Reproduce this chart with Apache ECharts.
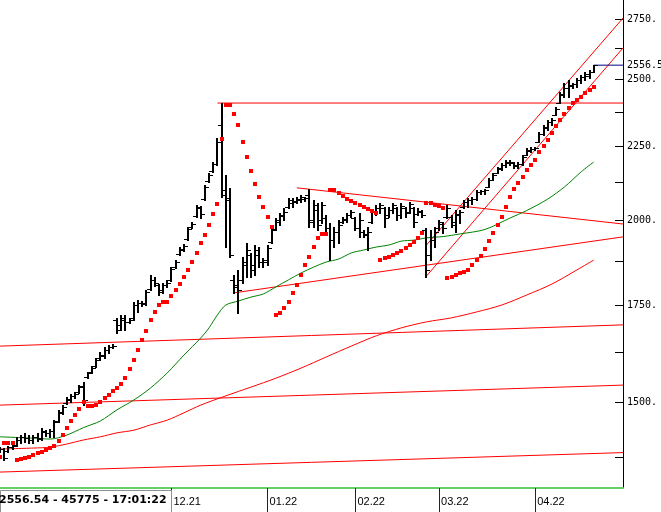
<!DOCTYPE html>
<html><head><meta charset="utf-8">
<script src="https://cdn.jsdelivr.net/npm/echarts@6/dist/echarts.min.js"></script>
<style>html,body{margin:0;padding:0;background:#fff}#c{width:661px;height:512px}</style>
</head><body><div id="c"></div>
<script>
const categoryCount = 150;
const monthIndex = [41, 64, 85, 105, 128];
const monthLabel = ['12.21', '01.22', '02.22', '03.22', '04.22'];

const open = [1392,1394,1390,1398,1403,1414,1421,1418,1414,1421,
1418,1432,1430,1434,1457,1476,1499,1506,1516,1525,
1540,1562,1574,1589,1610,1615,1630,1638,1709,1696,
1709,1704,1714,1750,1756,1756,1795,1821,1806,1792,
1806,1821,1858,1897,1909,1942,1980,2014,2040,2069,
2129,2163,2187,2326,2099,2066,1821,1806,1821,1864,
1894,1864,1894,1873,1873,1933,1973,1996,2014,2043,
2056,2063,2066,2069,2082,2002,2034,2002,2008,1977,
1939,1964,1996,2002,2018,2008,1977,1964,1955,1996,
2027,2040,2040,2018,2034,2040,2018,2040,2027,2040,
2021,2027,1970,1894,1939,1977,1989,2011,2011,1986,
2018,2043,2060,2066,2069,2092,2096,2109,2132,2156,
2170,2183,2191,2191,2180,2187,2218,2232,2240,2264,
2293,2315,2337,2363,2408,2439,2466,2474,2482,2497,
2509,2513,2529];
const high = [1398,1396,1401,1403,1421,1425,1430,1425,1425,1430,
1441,1436,1439,1459,1483,1494,1513,1521,1525,1542,
1550,1574,1589,1610,1625,1638,1643,1646,1714,1723,
1723,1714,1758,1764,1761,1792,1835,1829,1809,1812,
1821,1858,1879,1918,1927,1980,1996,2050,2047,2115,
2156,2194,2279,2408,2149,2106,1835,1850,1888,1930,
1900,1924,1918,1885,1924,1980,2008,2024,2040,2073,
2073,2076,2082,2076,2102,2066,2056,2060,2018,1992,
1980,2002,2011,2024,2034,2011,2024,1970,1980,2034,
2050,2056,2043,2043,2056,2043,2056,2043,2060,2043,
2040,2034,1977,1970,1980,2002,1996,2050,2018,2034,
2034,2066,2073,2076,2099,2099,2102,2139,2156,2177,
2191,2201,2201,2194,2194,2218,2243,2247,2247,2300,
2326,2344,2352,2393,2451,2486,2497,2486,2505,2517,
2529,2537,2557];
const low = [1387,1370,1387,1394,1401,1407,1410,1407,1407,1412,
1414,1423,1421,1421,1455,1473,1497,1501,1511,1523,
1494,1560,1572,1587,1604,1610,1622,1635,1674,1682,
1682,1701,1709,1731,1747,1750,1792,1803,1778,1784,
1801,1818,1855,1894,1906,1939,1977,2011,2008,2066,
2125,2159,2183,2076,1918,1888,1784,1728,1812,1829,
1829,1835,1858,1858,1864,1930,1970,1986,2002,2040,
2043,2056,2060,2063,1980,1980,1970,1992,1961,1879,
1918,1930,1992,1996,2011,1970,1949,1949,1909,1992,
2018,2024,1980,2011,2024,2002,2008,2011,2024,1980,
2018,2011,1829,1879,1918,1970,1961,2008,1980,1964,
1992,2040,2043,2053,2066,2086,2086,2109,2132,2156,
2166,2177,2183,2173,2173,2183,2218,2229,2236,2264,
2290,2308,2326,2363,2408,2431,2431,2466,2470,2486,
2497,2505,2529];
const close = [1394,1375,1398,1401,1414,1421,1418,1414,1421,1416,
1434,1430,1434,1455,1478,1489,1509,1516,1521,1537,
1506,1572,1584,1604,1617,1630,1638,1640,1682,1714,
1704,1709,1750,1756,1753,1786,1821,1812,1786,1806,
1812,1852,1873,1912,1921,1973,1989,2043,2021,2109,
2149,2187,2264,2082,2073,1894,1800,1792,1873,1909,
1850,1909,1873,1879,1915,1970,2002,2018,2027,2066,
2060,2069,2076,2073,1996,2050,1986,2050,1977,1939,
1964,1986,2005,2018,2027,1977,2002,1958,1964,2027,
2040,2050,2008,2034,2050,2018,2047,2024,2053,1996,
2030,2018,1850,1939,1964,1996,1977,2040,1996,2021,
2027,2060,2066,2069,2092,2096,2099,2132,2149,2173,
2183,2194,2194,2183,2187,2211,2236,2240,2243,2293,
2318,2337,2344,2385,2443,2466,2478,2482,2497,2509,
2521,2529,2556.5];

const sar = [1376,1407,1407,1407,1370,1372,1374,1376,1381,1385,
1387,1392,1396,1401,1412,1425,1441,1457,1471,1485,
1501,1492,1492,1494,1501,1511,1518,1528,1535,1545,
1560,1582,1604,1630,1656,1680,1709,1731,1750,1758,
1758,1775,1792,1809,1829,1850,1873,1900,1930,1955,
1986,2021,2053,2275,2401,2401,2367,2326,2264,2211,
2163,2119,2076,2043,2011,1980,1723,1728,1742,1758,
1784,1806,1835,1864,1888,1918,1946,1958,1958,2099,
2099,2089,2079,2069,2063,2056,2050,2043,2037,2030,
2024,1879,1885,1888,1894,1900,1906,1915,1924,1933,
1946,1961,2056,2056,2050,2047,2040,1826,1829,1835,
1841,1844,1850,1864,1879,1891,1912,1936,1961,1986,
2011,2043,2076,2102,2122,2142,2166,2183,2201,2229,
2250,2271,2297,2322,2344,2367,2389,2408,2420,2431,
2447,2458,2470];

const greenMA = [[0,1421],[8,1418],[12,1416],[16,1425],[20,1442],[24,1457],[28,1483],[32,1506],[36,1535],[40,1572],[44,1617],[48,1661],[50,1688],[52,1723],[54,1750],[57,1761],[60,1772],[63,1781],[66,1801],[69,1821],[72,1841],[75,1858],[78,1873],[81,1882],[84,1900],[87,1909],[90,1918],[93,1924],[96,1936],[99,1939],[102,1946],[106,1950],[110,1958],[116,1972],[122,2008],[126,2032],[131,2069],[135,2109],[139,2160],[142,2194]];
const redMA = [[0,1394],[8,1396],[12,1398],[16,1405],[20,1414],[24,1421],[28,1430],[32,1436],[36,1448],[40,1459],[44,1476],[48,1494],[54,1516],[60,1537],[66,1559],[72,1584],[78,1612],[84,1640],[90,1667],[96,1688],[102,1704],[108,1715],[114,1731],[120,1750],[126,1778],[132,1809],[138,1850],[142,1879]];

const lineA = [[0,1640],[149,1696]];
const lineB = [[0,1494],[149,1542]];
const lineC = [[0,1344],[149,1386]];
const peakLine = [[52,2408],[149,2408]];
const triUpper = [[71,2106],[149,1989]];
const triLower = [[56,1784],[149,1949]];
const chanUpper = [[102,1924],[149,2754]];
const chanLower = [[102,1832],[149,2627]];
const lastLine = [[142,2556.54],[149,2556.54]];

const yLabelValues = [1500, 1750, 2000, 2250, 2500, 2750];
const yTickValues = [1375,1500,1625,1750,1875,2000,2125,2250,2375,2500,2625,2750];
const lastPrice = 2556.54;
const infoText = '2556.54 - 45775 - 17:01:22';

const categories = [];
for (let i = 0; i < categoryCount; i++) categories.push(String(i));
const ohlc = open.map((o, i) => [i, o, high[i], low[i], close[i]]);
const sarData = sar.map((v, i) => [i, v]);

function renderBar(params, api) {
  const i = api.value(0);
  const o = api.coord([i, api.value(1)]);
  const h = api.coord([i, api.value(2)]);
  const l = api.coord([i, api.value(3)]);
  const c = api.coord([i, api.value(4)]);
  const x = Math.round(h[0]);
  const st = {stroke: '#000', lineWidth: 2};
  const tk = {stroke: '#000', lineWidth: 1};
  return {type: 'group', children: [
    {type: 'line', shape: {x1: x, y1: Math.round(h[1]), x2: x, y2: Math.round(l[1]) + 1}, style: st},
    {type: 'line', shape: {x1: x - 4, y1: Math.round(o[1]) + 0.5, x2: x, y2: Math.round(o[1]) + 0.5}, style: tk},
    {type: 'line', shape: {x1: x, y1: Math.round(c[1]) + 0.5, x2: x + 4, y2: Math.round(c[1]) + 0.5}, style: tk}
  ]};
}

function renderDot(params, api) {
  const p = api.coord([api.value(0), api.value(1)]);
  const x = Math.round(p[0]), y = Math.round(p[1]);
  return {type: 'rect', shape: {x: x - 2, y: y - 2, width: 4, height: 4}, style: {fill: '#ff0000'}};
}

function straight(data, color, z) {
  return {type: 'line', data: data, showSymbol: false, symbol: 'none', silent: true, z: z,
    lineStyle: {color: color, width: 1}};
}

const chart = echarts.init(document.getElementById('c'), null, {renderer: 'canvas'});
chart.setOption({
  animation: false,
  backgroundColor: '#fff',
  grid: {left: 0, top: 0, width: 623, height: 488, outerBoundsMode: 'none', containLabel: false},
  xAxis: {
    type: 'category', data: categories, boundaryGap: false,
    axisLine: {lineStyle: {color: '#66d066', width: 2}},
    axisTick: {interval: (i) => monthIndex.includes(i), length: 24, lineStyle: {color: '#222'}},
    axisLabel: {interval: (i) => monthIndex.includes(i),
      formatter: (v, i) => monthLabel[monthIndex.indexOf(i)] || '',
      align: 'left', margin: 8, padding: [0, 0, 0, 2],
      fontFamily: 'Liberation Sans', fontSize: 11, color: '#000'},
    splitLine: {show: false}
  },
  yAxis: {
    type: 'log', position: 'right', min: 1310.6, max: 2833.8,
    axisLine: {show: true, lineStyle: {color: '#000', width: 1}},
    axisTick: {show: true, inside: true, length: 8, lineStyle: {color: '#000'}, customValues: yTickValues},
    axisLabel: {customValues: yLabelValues.concat([lastPrice]),
      formatter: (v) => {
        const n = Number(v);
        return Math.abs(n - lastPrice) < 0.01 ? n.toFixed(2) : Math.round(n) + '.';
      },
      margin: 4, fontFamily: 'DejaVu Sans Mono', fontSize: 10, color: '#000'},
    splitLine: {show: false}
  },
  series: [
    straight(lineA, '#ff0000', 1),
    straight(lineB, '#ff0000', 1),
    straight(lineC, '#ff0000', 1),
    straight(peakLine, '#ff0000', 1),
    straight(triUpper, '#ff0000', 1),
    straight(triLower, '#ff0000', 1),
    straight(chanUpper, '#ff0000', 1),
    straight(chanLower, '#ff0000', 1),
    straight(lastLine, '#000080', 1),
    {type: 'line', data: greenMA, smooth: 0.3, showSymbol: false, symbol: 'none', silent: true, z: 2,
      lineStyle: {color: '#008000', width: 1}},
    {type: 'line', data: redMA, smooth: 0.3, showSymbol: false, symbol: 'none', silent: true, z: 2,
      lineStyle: {color: '#ff0000', width: 1}},
    {type: 'custom', data: ohlc, renderItem: renderBar, encode: {x: 0, y: [1, 2, 3, 4]}, z: 3, silent: true},
    {type: 'custom', data: sarData, renderItem: renderDot, encode: {x: 0, y: 1}, z: 4, silent: true}
  ],
  graphic: [
    {type: 'rect', left: 0, top: 490, shape: {x: 0, y: 0, width: 171, height: 24}, z: 100,
      style: {fill: '#fff', stroke: '#909090', lineWidth: 1}},
    {type: 'text', left: -1, top: 495, z: 101,
      style: {text: infoText, font: 'bold 11px "DejaVu Sans"', fill: '#000'}}
  ]
});
</script></body></html>
